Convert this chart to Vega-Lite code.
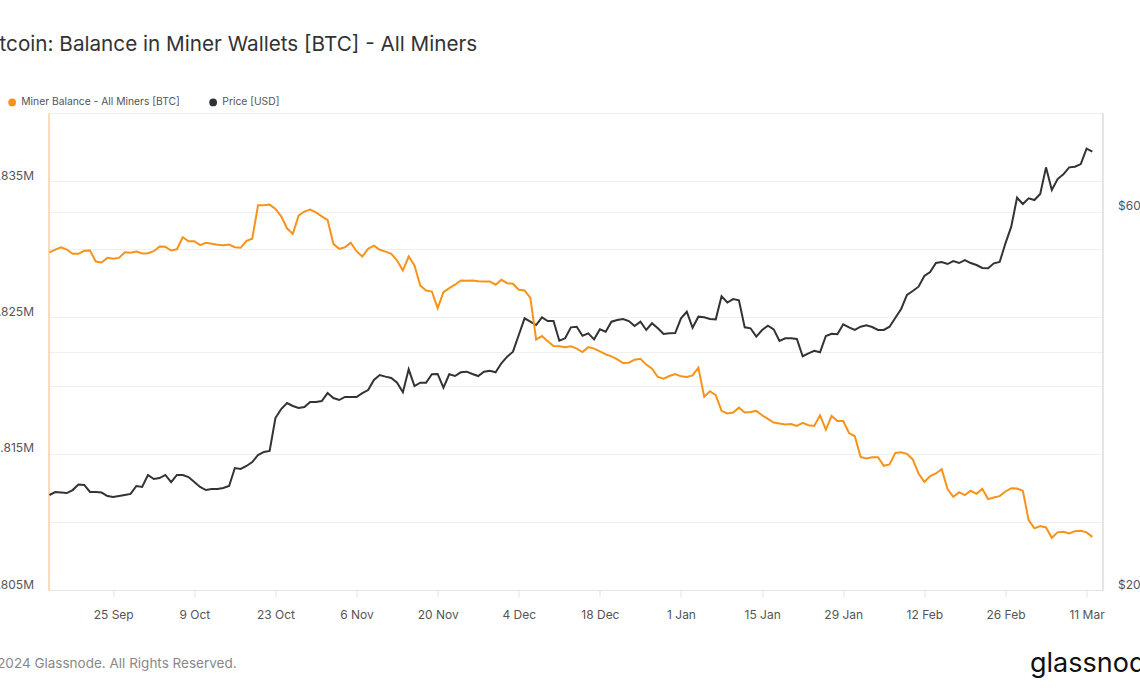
{
"$schema": "https://vega.github.io/schema/vega-lite/v6.json",
"width": 1054,
"height": 477,
"autosize": {"type": "none"},
"padding": {"left": 48.5, "top": 113, "right": 37.5, "bottom": 104},
"background": "white",
"config": {"view": {"stroke": null}, "font": "Inter"},
"title": {"text": "Bitcoin: Balance in Miner Wallets [BTC] - All Miners", "anchor": "start", "frame": "group", "fontSize": 20.7, "fontWeight": "normal", "font": "Inter", "color": "#333333", "dx": -67.5, "offset": 41},
"data": {"values": [
{"date":"2023-09-14","balance":1829780,"price":26360},
{"date":"2023-09-15","balance":1829980,"price":26590},
{"date":"2023-09-16","balance":1830150,"price":26550},
{"date":"2023-09-17","balance":1829980,"price":26510},
{"date":"2023-09-18","balance":1829670,"price":26740},
{"date":"2023-09-19","balance":1829670,"price":27180},
{"date":"2023-09-20","balance":1829890,"price":27140},
{"date":"2023-09-21","balance":1829910,"price":26590},
{"date":"2023-09-22","balance":1829100,"price":26590},
{"date":"2023-09-23","balance":1829030,"price":26550},
{"date":"2023-09-24","balance":1829370,"price":26280},
{"date":"2023-09-25","balance":1829300,"price":26210},
{"date":"2023-09-26","balance":1829370,"price":26280},
{"date":"2023-09-27","balance":1829780,"price":26360},
{"date":"2023-09-28","balance":1829740,"price":26440},
{"date":"2023-09-29","balance":1829830,"price":27060},
{"date":"2023-09-30","balance":1829690,"price":26980},
{"date":"2023-10-01","balance":1829710,"price":27940},
{"date":"2023-10-02","balance":1829860,"price":27610},
{"date":"2023-10-03","balance":1830200,"price":27690},
{"date":"2023-10-04","balance":1830180,"price":27940},
{"date":"2023-10-05","balance":1829910,"price":27370},
{"date":"2023-10-06","balance":1830000,"price":27940},
{"date":"2023-10-07","balance":1830880,"price":27940},
{"date":"2023-10-08","balance":1830590,"price":27770},
{"date":"2023-10-09","balance":1830590,"price":27370},
{"date":"2023-10-10","balance":1830300,"price":26980},
{"date":"2023-10-11","balance":1830470,"price":26740},
{"date":"2023-10-12","balance":1830400,"price":26820},
{"date":"2023-10-13","balance":1830330,"price":26820},
{"date":"2023-10-14","balance":1830300,"price":26900},
{"date":"2023-10-15","balance":1830350,"price":27060},
{"date":"2023-10-16","balance":1830150,"price":28510},
{"date":"2023-10-17","balance":1830110,"price":28430},
{"date":"2023-10-18","balance":1830620,"price":28680},
{"date":"2023-10-19","balance":1830770,"price":29010},
{"date":"2023-10-20","balance":1833230,"price":29610},
{"date":"2023-10-21","balance":1833230,"price":29870},
{"date":"2023-10-22","balance":1833280,"price":29960},
{"date":"2023-10-23","balance":1832960,"price":32970},
{"date":"2023-10-24","balance":1832420,"price":33840},
{"date":"2023-10-25","balance":1831540,"price":34440},
{"date":"2023-10-26","balance":1831130,"price":34140},
{"date":"2023-10-27","balance":1832470,"price":33940},
{"date":"2023-10-28","balance":1832770,"price":34040},
{"date":"2023-10-29","balance":1832910,"price":34540},
{"date":"2023-10-30","balance":1832710,"price":34540},
{"date":"2023-10-31","balance":1832420,"price":34640},
{"date":"2023-11-01","balance":1832160,"price":35450},
{"date":"2023-11-02","balance":1830400,"price":34940},
{"date":"2023-11-03","balance":1830030,"price":34740},
{"date":"2023-11-04","balance":1830150,"price":35050},
{"date":"2023-11-05","balance":1830490,"price":35050},
{"date":"2023-11-06","balance":1829860,"price":35050},
{"date":"2023-11-07","balance":1829470,"price":35450},
{"date":"2023-11-08","balance":1830030,"price":35760},
{"date":"2023-11-09","balance":1830270,"price":36820},
{"date":"2023-11-10","balance":1829960,"price":37360},
{"date":"2023-11-11","balance":1829830,"price":37180},
{"date":"2023-11-12","balance":1829670,"price":37040},
{"date":"2023-11-13","balance":1829180,"price":36530},
{"date":"2023-11-14","balance":1828440,"price":35530},
{"date":"2023-11-15","balance":1829470,"price":37980},
{"date":"2023-11-16","balance":1828810,"price":36180},
{"date":"2023-11-17","balance":1827340,"price":36530},
{"date":"2023-11-18","balance":1826980,"price":36530},
{"date":"2023-11-19","balance":1826900,"price":37440},
{"date":"2023-11-20","balance":1825680,"price":37470},
{"date":"2023-11-21","balance":1826850,"price":36010},
{"date":"2023-11-22","balance":1827150,"price":37440},
{"date":"2023-11-23","balance":1827400,"price":37250},
{"date":"2023-11-24","balance":1827710,"price":37650},
{"date":"2023-11-25","balance":1827690,"price":37720},
{"date":"2023-11-26","balance":1827710,"price":37470},
{"date":"2023-11-27","balance":1827660,"price":37250},
{"date":"2023-11-28","balance":1827640,"price":37720},
{"date":"2023-11-29","balance":1827640,"price":37830},
{"date":"2023-11-30","balance":1827400,"price":37650},
{"date":"2023-12-01","balance":1827760,"price":38650},
{"date":"2023-12-02","balance":1827510,"price":39400},
{"date":"2023-12-03","balance":1827470,"price":39980},
{"date":"2023-12-04","balance":1827030,"price":41960},
{"date":"2023-12-05","balance":1826980,"price":44050},
{"date":"2023-12-06","balance":1826440,"price":43620},
{"date":"2023-12-07","balance":1823370,"price":43200},
{"date":"2023-12-08","balance":1823630,"price":44180},
{"date":"2023-12-09","balance":1823260,"price":43700},
{"date":"2023-12-10","balance":1822900,"price":43700},
{"date":"2023-12-11","balance":1822880,"price":41270},
{"date":"2023-12-12","balance":1822820,"price":41560},
{"date":"2023-12-13","balance":1822880,"price":42910},
{"date":"2023-12-14","balance":1822710,"price":42990},
{"date":"2023-12-15","balance":1822460,"price":41880},
{"date":"2023-12-16","balance":1822820,"price":42170},
{"date":"2023-12-17","balance":1822710,"price":41440},
{"date":"2023-12-18","balance":1822510,"price":42660},
{"date":"2023-12-19","balance":1822290,"price":42370},
{"date":"2023-12-20","balance":1822140,"price":43620},
{"date":"2023-12-21","balance":1821920,"price":43830},
{"date":"2023-12-22","balance":1821650,"price":43960},
{"date":"2023-12-23","balance":1821680,"price":43700},
{"date":"2023-12-24","balance":1821900,"price":43080},
{"date":"2023-12-25","balance":1821970,"price":43620},
{"date":"2023-12-26","balance":1821540,"price":42580},
{"date":"2023-12-27","balance":1821240,"price":43420},
{"date":"2023-12-28","balance":1820630,"price":42790},
{"date":"2023-12-29","balance":1820510,"price":42090},
{"date":"2023-12-30","balance":1820700,"price":42170},
{"date":"2023-12-31","balance":1820850,"price":42210},
{"date":"2024-01-01","balance":1820680,"price":44050},
{"date":"2024-01-02","balance":1820630,"price":44900},
{"date":"2024-01-03","balance":1820750,"price":42860},
{"date":"2024-01-04","balance":1821320,"price":44260},
{"date":"2024-01-05","balance":1819180,"price":44180},
{"date":"2024-01-06","balance":1819580,"price":43960},
{"date":"2024-01-07","balance":1819290,"price":43920},
{"date":"2024-01-08","balance":1818150,"price":46960},
{"date":"2024-01-09","balance":1817950,"price":46120},
{"date":"2024-01-10","balance":1818020,"price":46590},
{"date":"2024-01-11","balance":1818380,"price":46420},
{"date":"2024-01-12","balance":1818020,"price":42910},
{"date":"2024-01-13","balance":1818060,"price":42790},
{"date":"2024-01-14","balance":1818140,"price":41760},
{"date":"2024-01-15","balance":1817820,"price":42580},
{"date":"2024-01-16","balance":1817550,"price":43110},
{"date":"2024-01-17","balance":1817290,"price":42660},
{"date":"2024-01-18","balance":1817210,"price":41240},
{"date":"2024-01-19","balance":1817140,"price":41560},
{"date":"2024-01-20","balance":1817180,"price":41560},
{"date":"2024-01-21","balance":1817040,"price":41480},
{"date":"2024-01-22","balance":1817260,"price":39450},
{"date":"2024-01-23","balance":1817090,"price":39790},
{"date":"2024-01-24","balance":1817040,"price":40090},
{"date":"2024-01-25","balance":1817820,"price":39910},
{"date":"2024-01-26","balance":1816770,"price":41840},
{"date":"2024-01-27","balance":1817770,"price":42120},
{"date":"2024-01-28","balance":1817400,"price":42050},
{"date":"2024-01-29","balance":1817400,"price":43290},
{"date":"2024-01-30","balance":1816520,"price":42910},
{"date":"2024-01-31","balance":1816280,"price":42580},
{"date":"2024-02-01","balance":1814770,"price":42990},
{"date":"2024-02-02","balance":1814650,"price":43160},
{"date":"2024-02-03","balance":1814740,"price":42950},
{"date":"2024-02-04","balance":1814740,"price":42580},
{"date":"2024-02-05","balance":1814110,"price":42580},
{"date":"2024-02-06","balance":1814210,"price":42990},
{"date":"2024-02-07","balance":1815060,"price":44130},
{"date":"2024-02-08","balance":1815110,"price":45260},
{"date":"2024-02-09","balance":1814990,"price":47140},
{"date":"2024-02-10","balance":1814580,"price":47690},
{"date":"2024-02-11","balance":1813550,"price":48290},
{"date":"2024-02-12","balance":1812930,"price":49810},
{"date":"2024-02-13","balance":1813350,"price":50400},
{"date":"2024-02-14","balance":1813550,"price":51730},
{"date":"2024-02-15","balance":1813860,"price":51880},
{"date":"2024-02-16","balance":1812400,"price":51580},
{"date":"2024-02-17","balance":1811840,"price":52030},
{"date":"2024-02-18","balance":1812180,"price":51730},
{"date":"2024-02-19","balance":1811960,"price":52180},
{"date":"2024-02-20","balance":1812280,"price":51730},
{"date":"2024-02-21","balance":1812060,"price":51430},
{"date":"2024-02-22","balance":1812420,"price":50990},
{"date":"2024-02-23","balance":1811670,"price":50940},
{"date":"2024-02-24","balance":1811790,"price":51680},
{"date":"2024-02-25","balance":1811890,"price":51880},
{"date":"2024-02-26","balance":1812230,"price":54780},
{"date":"2024-02-27","balance":1812470,"price":57490},
{"date":"2024-02-28","balance":1812450,"price":62540},
{"date":"2024-02-29","balance":1812280,"price":61410},
{"date":"2024-03-01","balance":1810130,"price":62430},
{"date":"2024-03-02","balance":1809520,"price":62120},
{"date":"2024-03-03","balance":1809690,"price":63210},
{"date":"2024-03-04","balance":1809590,"price":68310},
{"date":"2024-03-05","balance":1808830,"price":63960},
{"date":"2024-03-06","balance":1809230,"price":66030},
{"date":"2024-03-07","balance":1809270,"price":66940},
{"date":"2024-03-08","balance":1809150,"price":68310},
{"date":"2024-03-09","balance":1809320,"price":68440},
{"date":"2024-03-10","balance":1809340,"price":68970},
{"date":"2024-03-11","balance":1809230,"price":72110},
{"date":"2024-03-12","balance":1808900,"price":71490}
]},
"encoding": {
  "x": {"field": "date", "type": "temporal",
    "scale": {"type": "utc", "domain": [{"year": 2023, "month": 9, "date": 13, "hours": 20, "utc": true}, {"year": 2024, "month": 3, "date": 13, "hours": 18, "utc": true}]},
    "axis": {"orient": "bottom",
      "labelExpr": "utcFormat(datum.value, '%-d %b')",
      "values": [
        {"year": 2023, "month": 9, "date": 25, "utc": true},
        {"year": 2023, "month": 10, "date": 9, "utc": true},
        {"year": 2023, "month": 10, "date": 23, "utc": true},
        {"year": 2023, "month": 11, "date": 6, "utc": true},
        {"year": 2023, "month": 11, "date": 20, "utc": true},
        {"year": 2023, "month": 12, "date": 4, "utc": true},
        {"year": 2023, "month": 12, "date": 18, "utc": true},
        {"year": 2024, "month": 1, "date": 1, "utc": true},
        {"year": 2024, "month": 1, "date": 15, "utc": true},
        {"year": 2024, "month": 1, "date": 29, "utc": true},
        {"year": 2024, "month": 2, "date": 12, "utc": true},
        {"year": 2024, "month": 2, "date": 26, "utc": true},
        {"year": 2024, "month": 3, "date": 11, "utc": true}
      ],
      "grid": false, "domain": true, "domainColor": "#e3e3e3", "ticks": true, "tickColor": "#e3e3e3", "tickSize": 7,
      "labelPadding": 12, "labelFontSize": 12, "labelColor": "#555555", "labelFont": "Inter", "labelFlush": false, "labelOverlap": false,
      "title": "© 2024 Glassnode. All Rights Reserved.", "titleX": -68, "titleY": 73, "titleAlign": "left", "titleAnchor": "start", "titleBaseline": "middle",
      "titleFontSize": 13.5, "titleFontWeight": "normal", "titleColor": "#888888", "titleFont": "Inter"}
  }
},
"layer": [
  {
    "mark": {"type": "line", "strokeWidth": 2, "clip": true},
    "encoding": {
      "y": {"field": "price", "type": "quantitative",
        "scale": {"type": "log", "domain": [20000, 80000], "nice": false},
        "axis": {"orient": "right", "values": [20000, 40000, 60000, 80000],
          "labelExpr": "datum.value == 20000 || datum.value == 60000 ? '$' + format(datum.value / 1000, 'd') + 'k' : ''",
          "grid": true, "gridColor": "#f0f0f0", "domain": true, "domainColor": "#cccccc", "ticks": false,
          "labelPadding": 15, "labelFontSize": 12, "labelColor": "#555555", "labelFont": "Inter", "labelBaseline": "alphabetic", "labelOffset": -2,
          "title": "glassnode", "titleAngle": 0, "titleX": -73, "titleY": 550, "titleAlign": "left", "titleBaseline": "middle",
          "titleFontSize": 27, "titleFontWeight": "normal", "titleColor": "#111111", "titleFont": "Inter"}},
      "color": {"datum": "Price [USD]", "type": "nominal",
        "scale": {"domain": ["Miner Balance - All Miners [BTC]", "Price [USD]"], "range": ["#f7931a", "#333333"]},
        "legend": {"orient": "none", "legendX": -41.5, "legendY": -16, "direction": "horizontal", "title": null,
          "symbolType": "circle", "symbolSize": 60, "symbolStrokeWidth": 0, "labelFontSize": 10.3, "labelFont": "Inter",
          "labelColor": "#555555", "labelLimit": 400, "columnPadding": 28, "labelOffset": 4, "padding": 0,
          "encode": {"symbols": {"update": {"fill": {"scale": "color", "field": "value"}, "strokeWidth": {"value": 0}}}}}}
    }
  },
  {
    "mark": {"type": "line", "strokeWidth": 2, "clip": true},
    "encoding": {
      "y": {"field": "balance", "type": "quantitative",
        "scale": {"domain": [1805000, 1840000], "nice": false, "zero": false},
        "axis": {"orient": "left", "values": [1805000, 1810000, 1815000, 1820000, 1825000, 1830000, 1835000, 1840000],
          "labelExpr": "datum.value % 10000 == 5000 ? format(datum.value, '.4~s') : ''",
          "grid": true, "gridColor": "#f0f0f0", "domain": true, "domainColor": "#f9b870", "ticks": false,
          "labelPadding": 15, "labelFontSize": 12, "labelColor": "#555555", "labelFont": "Inter", "labelBaseline": "alphabetic", "labelOffset": -2,
          "title": null}},
      "color": {"datum": "Miner Balance - All Miners [BTC]", "type": "nominal"}
    }
  }
],
"resolve": {"scale": {"y": "independent"}, "axis": {"y": "independent"}}
}
